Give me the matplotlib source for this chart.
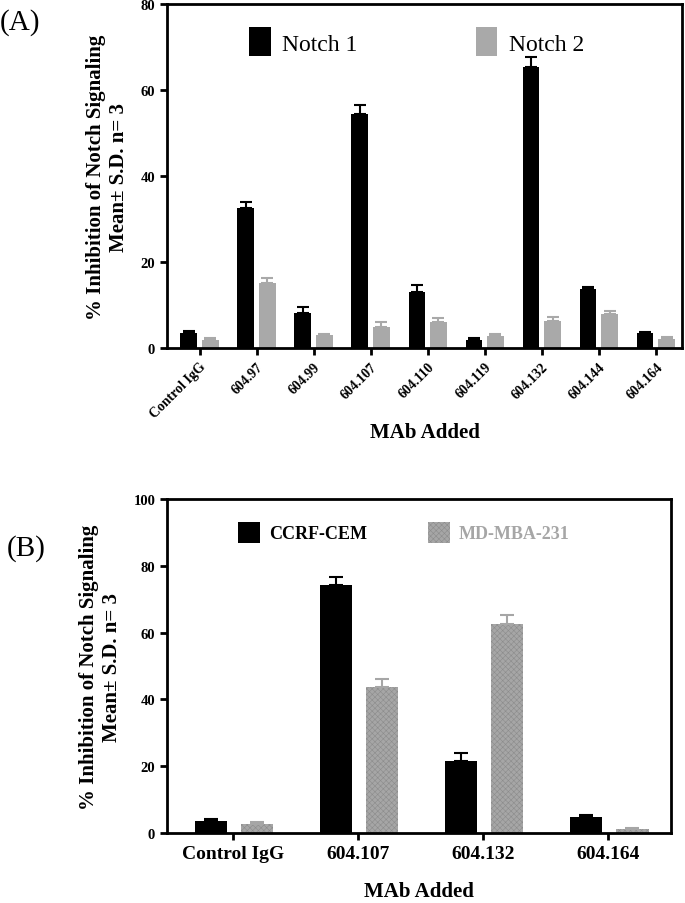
import numpy as np
import matplotlib
matplotlib.use('Agg')
import matplotlib.pyplot as plt

plt.rcParams['font.family'] = 'Liberation Serif'
plt.rcParams['hatch.linewidth'] = 0.4

# panel A
mabs_a = ['Control IgG', '604.97', '604.99', '604.107', '604.110',
          '604.119', '604.132', '604.144', '604.164']
notch1 = [3.6, 32.6, 8.1, 54.5, 13.0, 1.9, 65.4, 13.7, 3.6]
notch1_sd = [0.4, 1.3, 1.4, 2.1, 1.6, 0.5, 2.3, 0.5, 0.2]
notch2 = [1.9, 15.1, 3.1, 4.9, 6.1, 2.9, 6.4, 8.0, 2.1]
notch2_sd = [0.5, 1.3, 0.2, 1.1, 1.0, 0.4, 0.8, 0.5, 0.5]

# panel B
mabs_b = ['Control IgG', '604.107', '604.132', '604.164']
ccrf = [3.6, 74.2, 21.7, 4.8]
ccrf_sd = [0.6, 2.5, 2.4, 0.6]
mdmba = [2.8, 43.7, 62.6, 1.1]
mdmba_sd = [0.6, 2.5, 2.8, 0.3]

ylabel = '% Inhibition of Notch Signaling\nMean\u00b1 S.D. n= 3'

fig = plt.figure(figsize=(6.85, 9.04), dpi=100)


def style_axes(ax):
    for s in ax.spines.values():
        s.set_linewidth(2)
    ax.tick_params(axis='both', direction='out', width=2, length=5)
    for lab in ax.get_yticklabels():
        lab.set_fontweight('bold')


# ---- (A)
ax1 = fig.add_axes([0.2438, 0.6139, 0.7518, 0.3805])
x = np.arange(len(mabs_a))
w = 0.29
ax1.bar(x - 0.19, notch1, w, color='black', label='Notch 1',
        yerr=[np.zeros(len(x)), notch1_sd], error_kw=dict(ecolor='black', capsize=4, elinewidth=1.5, capthick=1.5))
ax1.bar(x + 0.19, notch2, w, color='#a9a9a9', label='Notch 2',
        yerr=[np.zeros(len(x)), notch2_sd], error_kw=dict(ecolor='#a9a9a9', capsize=4, elinewidth=1.5, capthick=1.5))
ax1.set_xlim(-0.57, 8.46)
ax1.set_ylim(0, 80)
ax1.set_yticks([0, 20, 40, 60, 80])
ax1.set_xticks(x)
ax1.set_xticklabels(mabs_a, rotation=45, ha='right', rotation_mode='anchor',
                    fontsize=10, fontweight='bold')
ax1.tick_params(axis='y', labelsize=10.5)
style_axes(ax1)
ax1.set_xlabel('MAb Added', fontsize=15, fontweight='bold', labelpad=1)
ax1.set_ylabel(ylabel, fontsize=15, fontweight='bold', labelpad=8)
leg = ax1.legend(loc='center', bbox_to_anchor=(0.485, 0.89), ncol=2, frameon=False,
                 fontsize=17, handlelength=0.9, handleheight=1.5,
                 columnspacing=5.0, handletextpad=0.5)

# ---- (B)
ax2 = fig.add_axes([0.2438, 0.0774, 0.7358, 0.3695])
xb = np.arange(len(mabs_b))
wb = 0.26
ax2.bar(xb - 0.18, ccrf, wb, color='black', label='CCRF-CEM',
        yerr=[np.zeros(len(xb)), ccrf_sd], error_kw=dict(ecolor='black', capsize=5, elinewidth=1.5, capthick=1.5))
ax2.bar(xb + 0.19, mdmba, wb, color='#a6a6a6', edgecolor='#8c8c8c', linewidth=0,
        hatch='xxxxxx', label='MD-MBA-231',
        yerr=[np.zeros(len(xb)), mdmba_sd], error_kw=dict(ecolor='#a6a6a6', capsize=5, elinewidth=1.5, capthick=1.5))
ax2.set_xlim(-0.53, 3.5)
ax2.set_ylim(0, 100)
ax2.set_yticks([0, 20, 40, 60, 80, 100])
ax2.set_xticks(xb)
ax2.set_xticklabels(mabs_b, fontsize=14, fontweight='bold')
ax2.tick_params(axis='y', labelsize=10.5)
style_axes(ax2)
ax2.set_xlabel('MAb Added', fontsize=15, fontweight='bold', labelpad=14)
ax2.set_ylabel(ylabel, fontsize=15, fontweight='bold', labelpad=8)
leg2 = ax2.legend(loc='center', bbox_to_anchor=(0.47, 0.9), ncol=2, frameon=False,
                  prop=dict(size=13, weight='bold'), handlelength=1.2, handleheight=1.4,
                  columnspacing=3.4, handletextpad=0.5)
leg2.get_texts()[1].set_color('#a6a6a6')

fig.text(0.0, 0.975, '(A)', fontsize=21, va='center', ha='left')
fig.text(0.01, 0.393, '(B)', fontsize=21, va='center', ha='left')

fig.savefig('out.png', dpi=100)
